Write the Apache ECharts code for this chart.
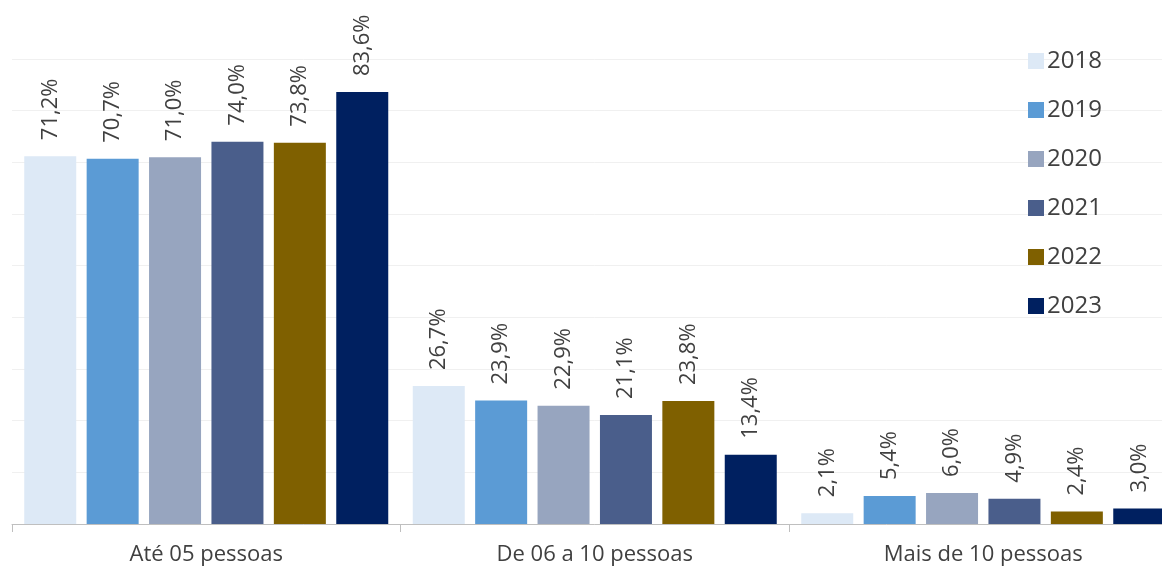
<!DOCTYPE html>
<html>
<head>
<meta charset="utf-8">
<script src="https://cdn.jsdelivr.net/npm/echarts@6/dist/echarts.min.js"></script>
<style>
html,body{margin:0;padding:0;background:#fff;overflow:hidden;width:1162px;height:571px;}
#chart{width:1178px;height:571px;}
</style>
</head>
<body>
<div id="chart"></div>
<script>
const categories = ['Até 05 pessoas', 'De 06 a 10 pessoas', 'Mais de 10 pessoas'];
const years = ['2018', '2019', '2020', '2021', '2022', '2023'];
const v2018 = [71.2, 26.7, 2.1];
const v2019 = [70.7, 23.9, 5.4];
const v2020 = [71.0, 22.9, 6.0];
const v2021 = [74.0, 21.1, 4.9];
const v2022 = [73.8, 23.8, 2.4];
const v2023 = [83.6, 13.4, 3.0];
const colors = ['#DDE9F6', '#5B9BD5', '#97A5BF', '#4A5E8B', '#7F6000', '#002060'];

const seriesData = [v2018, v2019, v2020, v2021, v2022, v2023];
const FONT = '"Open Sans", "Noto Sans", sans-serif';

const chart = echarts.init(document.getElementById('chart'));
chart.setOption({
  animation: false,
  backgroundColor: '#ffffff',
  grid: { left: 12, right: 0.5, top: 59, bottom: 47, containLabel: false },
  legend: {
    orient: 'vertical',
    left: 1023,
    top: 44,
    itemWidth: 16,
    itemHeight: 16,
    itemGap: 25,
    icon: 'rect',
    textStyle: { fontFamily: FONT, fontSize: 24, color: '#404040', lineHeight: 24, padding: [0, 0, 0, -2] },
    data: years
  },
  xAxis: {
    type: 'category',
    data: categories,
    axisLine: { lineStyle: { color: '#BFBFBF', width: 1 } },
    axisTick: { show: true, length: 8, lineStyle: { color: '#BFBFBF' } },
    axisLabel: { fontFamily: FONT, fontSize: 22, color: '#404040', margin: 20 }
  },
  yAxis: {
    type: 'value',
    min: 0,
    max: 90,
    interval: 10,
    axisLabel: { show: false },
    axisLine: { show: false },
    axisTick: { show: false },
    splitLine: { lineStyle: { color: '#F0F0F0', width: 1 } }
  },
  series: years.map((y, i) => ({
    name: y,
    type: 'bar',
    data: seriesData[i],
    barWidth: 52,
    barGap: '20%',
    itemStyle: { color: colors[i] },
    label: {
      show: true,
      position: 'top',
      rotate: 90,
      align: 'left',
      verticalAlign: 'middle',
      distance: 16,
      fontFamily: FONT,
      fontSize: 22,
      color: '#404040',
      formatter: p => p.value.toFixed(1).replace('.', ',') + '%'
    }
  }))
});
</script>
</body>
</html>
